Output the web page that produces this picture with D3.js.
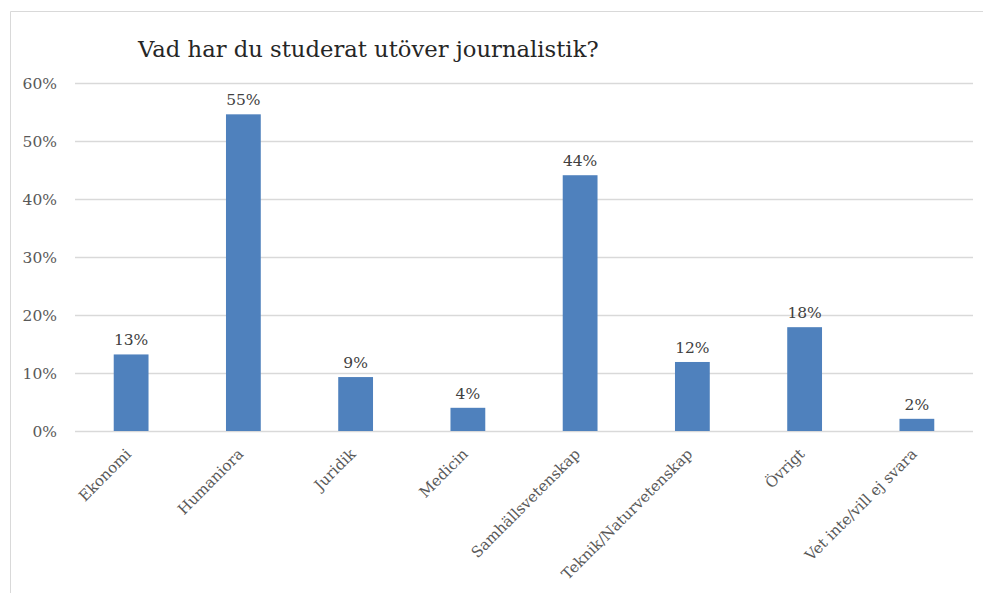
<!DOCTYPE html>
<html>
<head>
<meta charset="utf-8">
<script src="https://cdn.jsdelivr.net/npm/d3@7"></script>
<style>
  body { margin: 0; background: #fff; }
  text { font-family: 'DejaVu Serif', serif; }
</style>
</head>
<body>
<script>
  'use strict'
  const w = 983
  const h = 593

  const categories = ['Ekonomi', 'Humaniora', 'Juridik', 'Medicin', 'Samhällsvetenskap',
    'Teknik/Naturvetenskap', 'Övrigt', 'Vet inte/vill ej svara']
  const values = [0.132, 0.546, 0.093, 0.04, 0.441, 0.119, 0.179, 0.021]
  const labels = ['13%', '55%', '9%', '4%', '44%', '12%', '18%', '2%']
  const yTicks = [0, 0.1, 0.2, 0.3, 0.4, 0.5, 0.6]
  const title = 'Vad har du studerat utöver journalistik?'

  const svg = d3.select('body').append('svg')
    .attr('width', w)
    .attr('height', h)

  // chart frame
  svg.append('path')
    .attr('d', 'M10.5,' + h + 'V11.5H' + w)
    .attr('fill', 'none')
    .attr('stroke', '#d9d9d9')

  svg.append('text')
    .attr('x', 138)
    .attr('y', 57)
    .attr('font-size', 22.7)
    .attr('fill', '#262626')
    .text(title)

  const x = d3.scaleBand()
    .domain(categories)
    .range([75, 973])
    .paddingInner(0.69)
    .paddingOuter(0.345)

  const y = d3.scaleLinear()
    .domain([0, 0.6])
    .range([431, 83])

  const grid = svg.append('g')
  grid.selectAll('line')
    .data(yTicks)
    .enter().append('line')
    .attr('x1', 75)
    .attr('x2', 973)
    .attr('y1', d => Math.round(y(d)) + 0.5)
    .attr('y2', d => Math.round(y(d)) + 0.5)
    .attr('stroke', '#d9d9d9')
    .attr('stroke-width', 1.3)

  grid.selectAll('text')
    .data(yTicks)
    .enter().append('text')
    .attr('x', 57)
    .attr('y', d => y(d) + 6)
    .attr('text-anchor', 'end')
    .attr('font-size', 15.5)
    .attr('fill', '#595959')
    .text(d3.format('.0%'))

  svg.append('g').selectAll('rect')
    .data(values)
    .enter().append('rect')
    .attr('x', (d, i) => x(categories[i]))
    .attr('y', d => y(d))
    .attr('width', x.bandwidth())
    .attr('height', d => y(0) - y(d))
    .attr('fill', '#4f81bd')

  svg.append('g').selectAll('text')
    .data(values)
    .enter().append('text')
    .attr('x', (d, i) => x(categories[i]) + x.bandwidth() / 2)
    .attr('y', d => y(d) - 9)
    .attr('text-anchor', 'middle')
    .attr('font-size', 15.5)
    .attr('fill', '#404040')
    .text((d, i) => labels[i])

  svg.append('g').selectAll('text')
    .data(categories)
    .enter().append('text')
    .attr('transform', d => 'translate(' + (x(d) + x.bandwidth() / 2 + 1) + ',455) rotate(-45)')
    .attr('text-anchor', 'end')
    .attr('font-size', 15)
    .attr('fill', '#595959')
    .text(d => d)
</script>
</body>
</html>
